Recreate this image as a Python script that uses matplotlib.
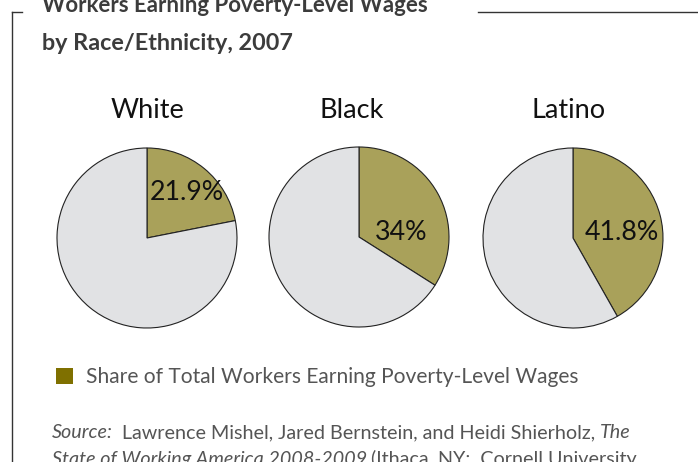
import matplotlib
matplotlib.use("Agg")
import matplotlib.pyplot as plt
from matplotlib.patches import Rectangle
from matplotlib.lines import Line2D

groups = ["White", "Black", "Latino"]
poverty_share = [21.9, 34.0, 41.8]
share_labels = ["21.9%", "34%", "41.8%"]
legend_label = "Share of Total Workers Earning Poverty-Level Wages"
title_lines = ["Workers Earning Poverty-Level Wages", "by Race/Ethnicity, 2007"]

OLIVE = "#a9a15a"
LIGHT = "#e1e2e4"
SWATCH = "#7f7000"
TEXT = "#3c3c3c"
FONT = "Lato"

W, H = 698, 462
fig = plt.figure(figsize=(W / 100, H / 100), dpi=100)
ax = fig.add_axes([0, 0, 1, 1])

centers = [(147, 238), (359, 237), (573, 238)]
name_x = [147, 352, 569]
radius = 90
label_pos = [(187, 193), (401, 232), (622, 232)]

def py(y):
    return H - y

for name, val, lab, (cx, cy), nx, (lx, ly) in zip(groups, poverty_share, share_labels,
                                                  centers, name_x, label_pos):
    ax.pie([val, 100 - val], colors=[OLIVE, LIGHT], startangle=90, counterclock=False,
           center=(cx, py(cy)), radius=radius, frame=True,
           wedgeprops=dict(edgecolor="#222222", linewidth=0.8))
    ax.text(nx, py(110), name, ha="center", va="center", fontsize=19.5, family=FONT, color="#111111")
    ax.text(lx, py(ly), lab, ha="center", va="center", fontsize=19.3, family=FONT, color="#111111")

ax.set_xlim(0, W)
ax.set_ylim(0, H)
ax.set_aspect("auto")
ax.axis("off")

# frame lines
ax.add_line(Line2D([12, 12], [py(12), py(470)], color="#333333", lw=1))
ax.add_line(Line2D([12, 22], [py(12), py(12)], color="#333333", lw=1))
ax.add_line(Line2D([478, 698], [py(12), py(12)], color="#333333", lw=1))

# title
ax.text(42, py(6), title_lines[0], ha="left", va="center", fontsize=16, fontweight="bold",
        family=FONT, color=TEXT)
ax.text(42, py(43), title_lines[1], ha="left", va="center", fontsize=16.8, fontweight="bold",
        family=FONT, color=TEXT)

# legend
ax.add_patch(Rectangle((56, py(384)), 17, 16, facecolor=SWATCH, edgecolor="none"))
ax.text(86, py(377), legend_label, ha="left", va="center", fontsize=15.1, family=FONT, color="#555555")

# source note
fs = 14.2
src_y = py(433)
t1 = ax.text(52, src_y, "Source:", ha="left", va="center", fontsize=fs, family=FONT,
             style="italic", color="#555555")
fig.canvas.draw()
r = fig.canvas.get_renderer()
bb = t1.get_window_extent(r)
x2 = ax.transData.inverted().transform((bb.x1, bb.y0))[0]
t2 = ax.text(x2 + 9, src_y, "Lawrence Mishel, Jared Bernstein, and Heidi Shierholz,", ha="left",
             va="center", fontsize=fs, family=FONT, color="#555555")
bb = t2.get_window_extent(r)
x3 = ax.transData.inverted().transform((bb.x1, bb.y0))[0]
ax.text(x3 + 5, src_y, "The", ha="left", va="center", fontsize=fs, family=FONT,
        style="italic", color="#555555")

src_y2 = py(459)
t4 = ax.text(52, src_y2, "State of Working America 2008-2009", ha="left", va="center",
             fontsize=fs, family=FONT, style="italic", color="#555555")
bb = t4.get_window_extent(r)
x4 = ax.transData.inverted().transform((bb.x1, bb.y0))[0]
ax.text(x4 + 4, src_y2, "(Ithaca, NY:  Cornell University", ha="left", va="center",
        fontsize=fs, family=FONT, color="#555555")

fig.savefig("out.png", dpi=100)
